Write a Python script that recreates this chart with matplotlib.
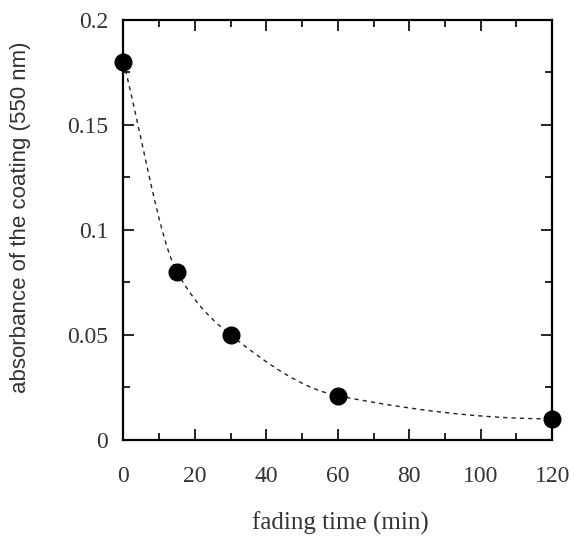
import numpy as np
import matplotlib.pyplot as plt
from matplotlib.ticker import MultipleLocator

time_min = [0, 15, 30, 60, 120]
absorbance = [0.18, 0.08, 0.05, 0.021, 0.01]


def pchip(x, y, xs):
    # monotone cubic (Fritsch-Carlson) through the measured points
    x = np.asarray(x, float)
    y = np.asarray(y, float)
    h = np.diff(x)
    d = np.diff(y) / h
    m = np.zeros_like(y)
    m[0], m[-1] = d[0], 0.0
    for i in range(1, len(x) - 1):
        if d[i - 1] * d[i] > 0:
            w1 = 2 * h[i] + h[i - 1]
            w2 = h[i] + 2 * h[i - 1]
            m[i] = (w1 + w2) / (w1 / d[i - 1] + w2 / d[i])
    out = np.empty_like(xs)
    for j, t in enumerate(xs):
        k = min(np.searchsorted(x, t, side='right') - 1, len(x) - 2)
        s = (t - x[k]) / h[k]
        h00 = 2 * s**3 - 3 * s**2 + 1
        h10 = s**3 - 2 * s**2 + s
        h01 = -2 * s**3 + 3 * s**2
        h11 = s**3 - s**2
        out[j] = h00 * y[k] + h10 * h[k] * m[k] + h01 * y[k + 1] + h11 * h[k] * m[k + 1]
    return out


xs = np.linspace(0, 120, 300)
ys = pchip(time_min, absorbance, xs)

serif = 'Liberation Serif'
txt = '#333333'

fig = plt.figure(figsize=(5.74, 5.41), dpi=100)
ax = fig.add_axes([0.215, 0.187, 0.747, 0.776])

ax.plot(xs, ys, color='#222222', linestyle=(0, (3, 3)), linewidth=1)
ax.plot(time_min, absorbance, 'o', color='black', markersize=12, clip_on=False, zorder=3)

ax.set_xlim(0, 120)
ax.set_ylim(0, 0.2)
ax.xaxis.set_major_locator(MultipleLocator(20))
ax.xaxis.set_minor_locator(MultipleLocator(10))
ax.yaxis.set_major_locator(MultipleLocator(0.05))
ax.yaxis.set_minor_locator(MultipleLocator(0.025))
ax.set_yticks([0, 0.05, 0.1, 0.15, 0.2])
ax.set_yticklabels(['0', '0.05', '0.1', '0.15', '0.2'])

ax.tick_params(which='both', direction='in', top=True, right=True, width=1.2)
ax.tick_params(which='major', length=8, labelsize=17)
ax.tick_params(axis='x', which='major', pad=19)
ax.tick_params(axis='y', which='major', pad=11)
ax.tick_params(which='minor', length=5)
for lab in ax.get_xticklabels() + ax.get_yticklabels():
    lab.set_family(serif)
    lab.set_color(txt)
for s in ax.spines.values():
    s.set_linewidth(1.6)

ax.set_xlabel('fading time (min)', family=serif, fontsize=18, color=txt)
ax.xaxis.set_label_coords(0.505, -0.172)
ax.set_ylabel('absorbance of the coating (550 nm)', family='Liberation Sans', fontsize=16,
              color=txt)
ax.yaxis.set_label_coords(-0.215, 0.531)

fig.savefig('out.png', dpi=100)
